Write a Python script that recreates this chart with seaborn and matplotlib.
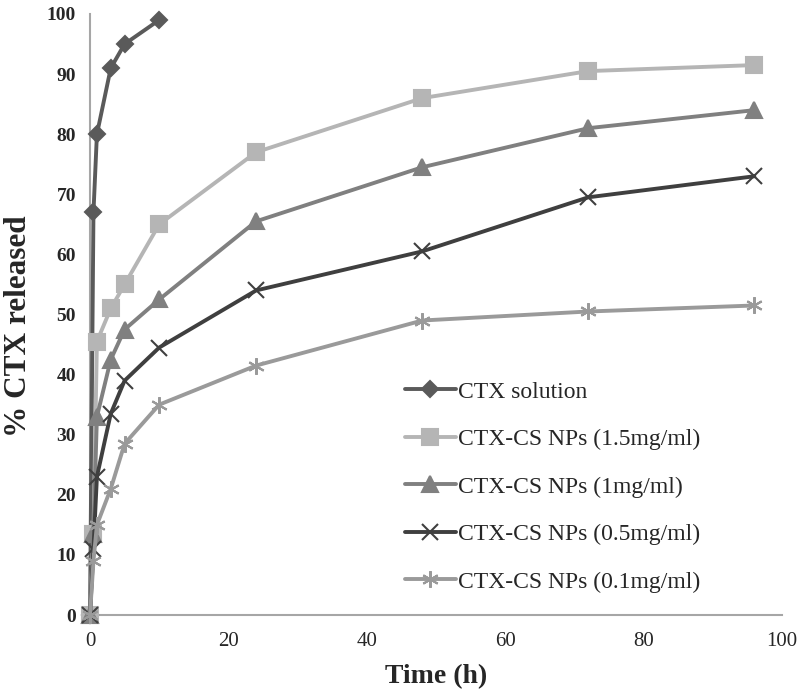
import matplotlib
matplotlib.use("Agg")
import matplotlib.pyplot as plt
import seaborn as sns
import pandas as pd

# ---- data ----
t_ctx = [0, 0.5, 1, 3, 5, 10]
ctx_solution = [0, 67, 80, 91, 95, 99]

t_np = [0, 0.5, 1, 3, 5, 10, 24, 48, 72, 96]
np_15 = [0, 13.5, 45.5, 51, 55, 65, 77, 86, 90.5, 91.5]
np_10 = [0, 13.5, 33, 42.5, 47.5, 52.5, 65.5, 74.5, 81, 84]
np_05 = [0, 11, 23, 33.5, 39, 44.5, 54, 60.5, 69.5, 73]
np_01 = [0, 9, 15, 21, 28.5, 35, 41.5, 49, 50.5, 51.5]

labels = ["CTX solution", "CTX-CS NPs (1.5mg/ml)", "CTX-CS NPs (1mg/ml)",
          "CTX-CS NPs (0.5mg/ml)", "CTX-CS NPs (0.1mg/ml)"]
x_ticks = [0, 20, 40, 60, 80, 100]
y_ticks = [0, 10, 20, 30, 40, 50, 60, 70, 80, 90, 100]

sns.set_style("white")
plt.rcParams["font.family"] = ["Liberation Serif", "DejaVu Serif"]

fig = plt.figure(figsize=(7.99, 6.98), dpi=100)
ax = fig.add_axes([90 / 799, 83 / 698, 692 / 799, 601 / 698])

series = [
    (t_ctx, ctx_solution, "#5a5a5a", "D", 8, 1.5),
    (t_np, np_15, "#b5b5b5", "s", 12, 1.5),
    (t_np, np_10, "#808080", "^", 11, 1.5),
    (t_np, np_05, "#3f3f3f", "x", 11, 1.5),
    (t_np, np_01, "#9a9a9a", (6, 2, 0), 12, 1.5),
]

for (tx, vals, col, mk, ms, mew), lab in zip(series, labels):
    df = pd.DataFrame({"time": tx, "released": vals})
    sns.lineplot(data=df, x="time", y="released", ax=ax, color=col,
                 marker=mk, markersize=ms, markeredgewidth=mew,
                 markeredgecolor=col, markerfacecolor=col,
                 linewidth=2.8, label=lab, clip_on=False, zorder=3)

ax.set_xlim(0, 100)
ax.set_ylim(0, 100)
ax.set_xticks(x_ticks)
ax.set_yticks(y_ticks)
ax.set_xticklabels([str(v) for v in x_ticks], fontsize=15)
ax.set_yticklabels([str(v) for v in y_ticks], fontsize=14, fontweight="bold")
ax.tick_params(axis="both", length=0, pad=10)
ax.tick_params(axis="x", pad=12)

for s in ["top", "right"]:
    ax.spines[s].set_visible(False)
for s in ["left", "bottom"]:
    ax.spines[s].set_color("#a6a6a6")
    ax.spines[s].set_linewidth(1.5)

ax.set_xlabel("Time (h)", fontsize=20, fontweight="bold", labelpad=10)
ax.set_ylabel("% CTX released", fontsize=22.5, fontweight="bold")
ax.yaxis.set_label_coords(-0.083, 0.48)

leg = ax.legend(loc="upper left", bbox_to_anchor=(405 / 799, (698 - 381) / 698),
                bbox_transform=fig.transFigure, frameon=False, fontsize=17,
                labelspacing=1.1, handlelength=2.15, handletextpad=0.1,
                borderpad=0, borderaxespad=0)

fig.savefig("out.png", dpi=100)
